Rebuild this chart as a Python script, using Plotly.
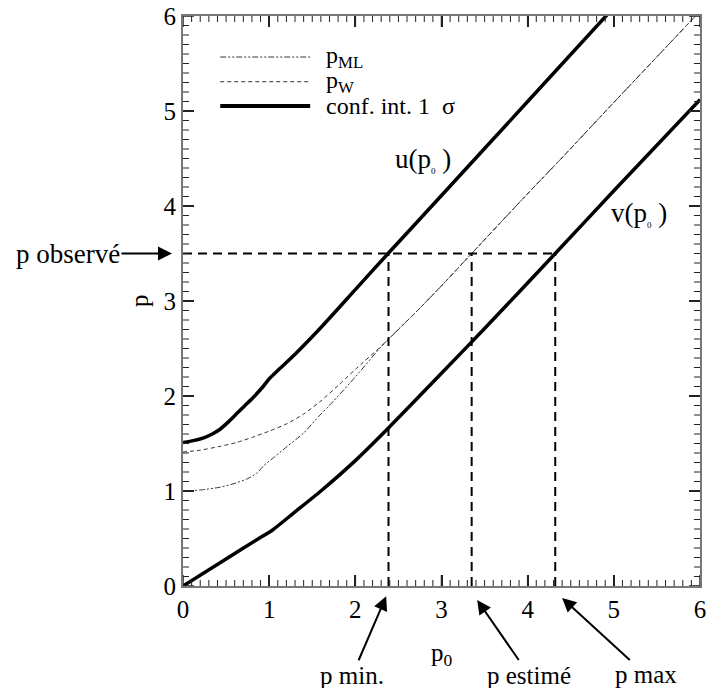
import plotly.graph_objects as go

# ---------------- data ----------------
p0_u = [0, 0.12, 0.24, 0.34, 0.43, 0.53, 0.63, 0.72, 0.82, 0.93, 1.0, 1.09, 1.3, 1.62, 2.0, 2.38, 3.0, 4.0, 5.0]
u_vals = [1.51, 1.53, 1.56, 1.60, 1.65, 1.73, 1.82, 1.90, 1.99, 2.10, 2.18, 2.26, 2.44, 2.74, 3.12, 3.5, 4.11, 5.10, 6.09]

p0_v = [0, 0.5, 0.88, 1.04, 1.3, 1.6, 2.0, 2.37, 3.0, 3.5, 4.32, 5.0, 6.0]
v_vals = [0, 0.285, 0.50, 0.59, 0.78, 1.0, 1.32, 1.65, 2.24, 2.71, 3.5, 4.16, 5.12]

p0_ml = [0, 0.2, 0.43, 0.6, 0.75, 0.86, 0.94, 1.05, 1.21, 1.40, 1.59, 1.75, 2.0, 2.32, 2.7, 3.0, 3.35, 4.0, 4.38, 5.0, 5.5, 6.0]
ml_vals = [1.0, 1.01, 1.04, 1.08, 1.13, 1.19, 1.27, 1.35, 1.47, 1.61, 1.80, 1.95, 2.20, 2.54, 2.88, 3.16, 3.5, 4.13, 4.49, 5.09, 5.57, 6.05]

p0_w = [0, 0.2, 0.43, 0.62, 0.82, 1.0, 1.21, 1.4, 1.59, 1.8, 2.0, 2.32, 2.7, 3.0, 3.35, 4.0, 4.38, 5.0, 5.5, 6.0]
w_vals = [1.41, 1.43, 1.47, 1.51, 1.57, 1.63, 1.71, 1.81, 1.94, 2.11, 2.28, 2.54, 2.88, 3.16, 3.5, 4.13, 4.49, 5.09, 5.57, 6.05]

p_observed = 3.5
p_min = 2.385
p_est = 3.35
p_max = 4.32

major_ticks = [0, 1, 2, 3, 4, 5, 6]

FONT = "Liberation Serif"
AX_MIN, AX_MAX = 0, 6
PLOT_W, PLOT_H = 517, 570          # plot area in px (707-183-7, 688-16-102)

fig = go.Figure()

ML_LINE = dict(color="#333333", width=1, dash="6px,2px,2px,2px,2px,2px", shape="spline", smoothing=0.6)
W_LINE = dict(color="#333333", width=1, dash="4px,3px", shape="spline", smoothing=0.6)

fig.add_trace(go.Scatter(x=p0_ml, y=ml_vals, mode="lines", name="p<sub>ML</sub>", line=ML_LINE))
fig.add_trace(go.Scatter(x=p0_w, y=w_vals, mode="lines", name="p<sub>W</sub>", line=W_LINE))
fig.add_trace(go.Scatter(x=p0_u, y=u_vals, mode="lines", name="u(p0)",
                         line=dict(color="black", width=3.5, shape="spline", smoothing=0.6)))
fig.add_trace(go.Scatter(x=p0_v, y=v_vals, mode="lines", name="v(p0)",
                         line=dict(color="black", width=3.5, shape="spline", smoothing=0.6)))

hx = [0, p_max]
hy = [p_observed, p_observed]
vx, vy = [], []
for p in (p_min, p_est, p_max):
    vx += [p, p, None]
    vy += [0, p_observed, None]
fig.add_trace(go.Scatter(x=hx + [None] + vx, y=hy + [None] + vy, mode="lines",
                         line=dict(color="black", width=2, dash="9px,6px")))

# ---- inside tick marks on all four sides (major every 1, minor every 0.1) ----
span = AX_MAX - AX_MIN
def tick_paths(vals, len_px):
    lx = len_px * span / PLOT_H     # length along y (for x-axis ticks)
    ly = len_px * span / PLOT_W     # length along x (for y-axis ticks)
    xs, ys = [], []
    for t in vals:
        xs += [t, t, None, t, t, None]
        ys += [AX_MIN, AX_MIN + lx, None, AX_MAX, AX_MAX - lx, None]
        xs += [AX_MIN, AX_MIN + ly, None, AX_MAX, AX_MAX - ly, None]
        ys += [t, t, None, t, t, None]
    return xs, ys

minor_vals = [i / 10 for i in range(AX_MIN * 10, AX_MAX * 10 + 1) if i % 10]
mx, my = tick_paths(major_ticks, 11)
nx, ny = tick_paths(minor_vals, 6)
fig.add_trace(go.Scatter(x=mx, y=my, mode="lines", line=dict(color="#222222", width=1.5), hoverinfo="skip"))
fig.add_trace(go.Scatter(x=nx, y=ny, mode="lines", line=dict(color="#222222", width=1), hoverinfo="skip"))

fig.update_traces(showlegend=False)

leg_rows = [(0.928, dict(color="#333333", width=1, dash="6px,2px,2px,2px,2px,2px"), "p<sub>ML</sub>"),
            (0.8847, dict(color="#333333", width=1, dash="4px,3px"), "p<sub>W</sub>"),
            (0.842, dict(color="black", width=4), "conf. int. 1 \u00a0\u03c3")]
shapes = []
annotations = []
for yy, ln, txt in leg_rows:
    shapes.append(dict(type="line", xref="paper", yref="paper", x0=0.072, x1=0.246, y0=yy, y1=yy, line=ln))
    annotations.append(dict(xref="paper", yref="paper", x=0.272, y=yy, text=txt, showarrow=False,
                            xanchor="left", yanchor="middle", font=dict(family=FONT, size=24, color="black")))

annotations.append(dict(x=2.78, y=4.48, text="u(p<sub><span style='font-size:9px'>0</span></sub> )",
                        showarrow=False, font=dict(family=FONT, size=27, color="black")))
annotations.append(dict(x=5.29, y=3.92, text="v(p<sub><span style='font-size:9px'>0</span></sub> )",
                        showarrow=False, font=dict(family=FONT, size=27, color="black")))

annotations.append(dict(xref="paper", yref="y", x=-0.0213, y=p_observed, ax=-104, ay=0, text="p observé",
                        showarrow=True, arrowhead=2, arrowsize=1.4, arrowwidth=2, arrowcolor="black",
                        font=dict(family=FONT, size=27, color="black")))

for tipx, tipy, ax, ay, label in [(2.358, -0.018, -34, 79, "p min."),
                                  (3.414, -0.0246, 52, 75, "p estimé"),
                                  (4.40, -0.021, 84, 77, "p max")]:
    annotations.append(dict(xref="x", yref="paper", x=tipx, y=tipy, ax=ax, ay=ay, text=label,
                            showarrow=True, arrowhead=2, arrowsize=1.4, arrowwidth=2, arrowcolor="black",
                            font=dict(family=FONT, size=25, color="black")))

annotations.append(dict(xref="x", yref="paper", x=3.0, y=-0.12, text="p<sub>0</sub>", showarrow=False,
                        xanchor="center", yanchor="middle", font=dict(family=FONT, size=25, color="black")))
annotations.append(dict(xref="paper", yref="y", x=-0.085, y=3.0, text="p", showarrow=False, textangle=-90,
                        xanchor="center", yanchor="middle", font=dict(family=FONT, size=25, color="black")))

axis_common = dict(
    range=[AX_MIN, AX_MAX], showline=True, linecolor="#777777", linewidth=2, mirror="ticks",
    ticks="inside", ticklen=11, tickwidth=1.5, tickcolor="#222222", showgrid=False,
    tickvals=major_ticks, ticktext=[str(t) for t in major_ticks],
)

fig.update_layout(
    template="none",
    font=dict(family=FONT, size=25, color="black"),
    width=707, height=688,
    margin=dict(l=183, r=7, t=16, b=102),
    xaxis=axis_common,
    yaxis=axis_common,
    shapes=shapes,
    annotations=annotations,
    showlegend=False,
)

fig.write_html("out.html")
